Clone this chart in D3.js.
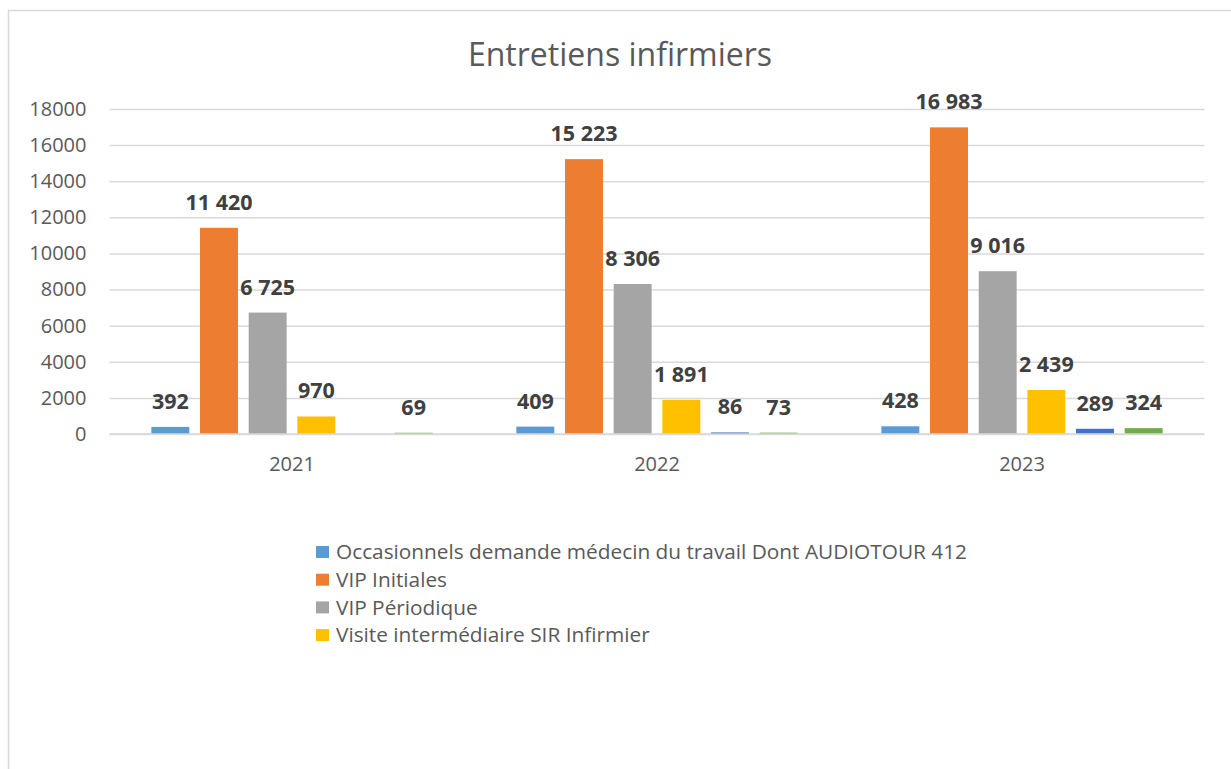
<!DOCTYPE html>
<html>
<head>
<meta charset="utf-8">
<script src="https://cdn.jsdelivr.net/npm/d3@7"></script>
<style>
  body { margin: 0; background: #fff; }
  svg { display: block; }
</style>
</head>
<body>
<div class="canvas"></div>
<script>
// Data
const years = ["2021", "2022", "2023"];
const seriesNames = [
    "Occasionnels demande médecin du travail Dont AUDIOTOUR 412",
    "VIP Initiales",
    "VIP Périodique",
    "Visite intermédiaire SIR Infirmier",
    "Série 5",
    "Série 6"
];
const occasionnels = [392, 409, 428];
const vipInitiales = [11420, 15223, 16983];
const vipPeriodique = [6725, 8306, 9016];
const visiteSir = [970, 1891, 2439];
const serie5 = [null, 86, 289];
const serie6 = [69, 73, 324];
const yTicks = [0, 2000, 4000, 6000, 8000, 10000, 12000, 14000, 16000, 18000];
// only the first four series are shown in the legend
const legendCount = 4;

const colours = ["#5B9BD5", "#ED7D31", "#A5A5A5", "#FFC000", "#4472C4", "#70AD47"];
const allSeries = [occasionnels, vipInitiales, vipPeriodique, visiteSir, serie5, serie6];

const width = 1231, height = 769;
const font = "'Open Sans', 'Noto Sans', sans-serif";

const svg = d3.select(".canvas")
    .append("svg")
    .attr("width", width)
    .attr("height", height);

// chart frame
svg.append("rect")
    .attr("x", 8.5).attr("y", 10.5)
    .attr("width", 1240).attr("height", 800)
    .attr("fill", "#fff")
    .attr("stroke", "#D9D9D9")
    .attr("stroke-width", 1.5);

svg.append("text")
    .attr("x", 620).attr("y", 66)
    .attr("text-anchor", "middle")
    .attr("font-family", font)
    .attr("font-size", 32)
    .attr("fill", "#595959")
    .text("Entretiens infirmiers");

const plot = { left: 109.5, right: 1204.5, top: 109, bottom: 434 };

const y = d3.scaleLinear()
    .domain([0, 18000])
    .range([plot.bottom, plot.top]);

const x0 = d3.scaleBand()
    .domain(years)
    .range([plot.left, plot.right]);

const x1 = d3.scaleBand()
    .domain(d3.range(allSeries.length))
    .range([0, x0.bandwidth()])
    .paddingInner(0.22)
    .paddingOuter(0.86);

// gridlines + y labels
const yAxis = d3.axisLeft(y)
    .tickValues(yTicks)
    .tickSize(-(plot.right - plot.left))
    .tickPadding(23)
    .tickFormat(d3.format("d"));

const yAxisGroup = svg.append("g")
    .attr("transform", `translate(${plot.left}, 0)`)
    .call(yAxis);
yAxisGroup.select(".domain").remove();
yAxisGroup.selectAll("line")
    .attr("stroke", "#D9D9D9")
    .attr("stroke-width", 1.5);
yAxisGroup.selectAll("text")
    .attr("font-family", font)
    .attr("font-size", 20)
    .attr("fill", "#595959");

// x labels
const xAxisGroup = svg.append("g")
    .attr("transform", `translate(0, ${plot.bottom})`)
    .call(d3.axisBottom(x0).tickSize(0).tickPadding(23));
xAxisGroup.select(".domain").remove();
xAxisGroup.selectAll("text")
    .attr("font-family", font)
    .attr("font-size", 20)
    .attr("fill", "#595959");

// bars
const cells = [];
allSeries.forEach((values, s) => {
    values.forEach((v, i) => {
        if (v !== null) cells.push({ year: years[i], s: s, value: v });
    });
});

const groups = svg.append("g");
groups.selectAll("rect")
    .data(cells)
    .enter()
    .append("rect")
    .attr("x", d => x0(d.year) + x1(d.s))
    .attr("y", d => y(d.value))
    .attr("width", x1.bandwidth())
    .attr("height", d => plot.bottom - y(d.value))
    .attr("fill", d => colours[d.s]);

// baseline drawn over the bars
svg.append("line")
    .attr("x1", plot.left).attr("x2", plot.right)
    .attr("y1", plot.bottom).attr("y2", plot.bottom)
    .attr("stroke", "#D9D9D9")
    .attr("stroke-width", 1.5);

const fmt = v => d3.format(",")(v).replace(/,/g, " ");
groups.selectAll("text")
    .data(cells)
    .enter()
    .append("text")
    .attr("x", d => x0(d.year) + x1(d.s) + x1.bandwidth() / 2)
    .attr("y", d => y(d.value) - 18)
    .attr("text-anchor", "middle")
    .attr("font-family", font)
    .attr("font-size", 21.5)
    .attr("font-weight", "bold")
    .attr("fill", "#404040")
    .text(d => fmt(d.value));

// legend
const legend = svg.append("g")
    .attr("transform", "translate(316, 552)");
const items = legend.selectAll("g")
    .data(seriesNames.slice(0, legendCount))
    .enter()
    .append("g")
    .attr("transform", (d, i) => `translate(0, ${i * 27.7})`);
items.append("rect")
    .attr("x", 0).attr("y", -6)
    .attr("width", 13).attr("height", 12)
    .attr("fill", (d, i) => colours[i]);
items.append("text")
    .attr("x", 20).attr("y", 0)
    .attr("dy", "0.35em")
    .attr("font-family", font)
    .attr("font-size", 20.8)
    .attr("fill", "#595959")
    .text(d => d);
</script>
</body>
</html>
